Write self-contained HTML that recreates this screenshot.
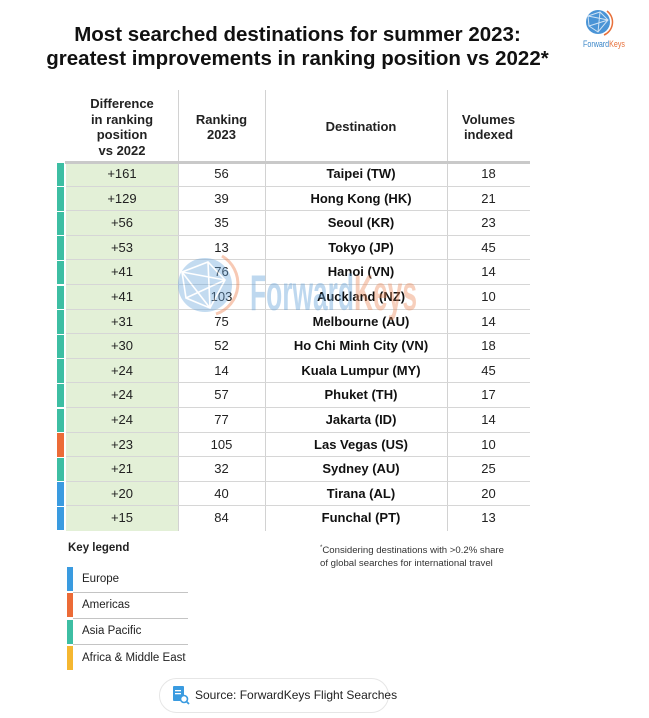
<!DOCTYPE html>
<html><head><meta charset="utf-8"><style>
*{margin:0;padding:0;box-sizing:border-box}
body{width:649px;height:718px;background:#fff;position:relative;overflow:hidden;font-family:"Liberation Sans",Arial,sans-serif;color:#222}
.a{position:absolute}
.t{position:absolute;left:0;width:595px;text-align:center;font-weight:bold;font-size:20.5px;color:#111;white-space:nowrap}
.h{position:absolute;text-align:center;font-weight:bold;font-size:13px;line-height:15.5px;color:#222}
.vl{position:absolute;top:90px;height:441px;width:1px;background:#d2d2d2}
.row{position:absolute;left:0;width:649px;height:24.6px}
.bar{position:absolute;left:57px;top:0.5px;width:7px;height:23.6px}
.g{position:absolute;left:66px;top:0;width:112px;height:24.6px;background:#e3f0d7}
.sep{position:absolute;left:66px;width:464px;height:1px;background:#d6d6d6;bottom:0}
.c{position:absolute;top:0;height:24.6px;line-height:24.6px;font-size:13px;text-align:center;color:#222;white-space:nowrap}
.c1{left:66px;width:112px}.c2{left:178px;width:87px}.c3{left:270px;width:182px;font-weight:bold;color:#111}.c4{left:447px;width:83px}
.lg{position:absolute;left:67px;width:6px;height:24px}
.lt{position:absolute;left:82px;font-size:11.5px;color:#222;line-height:14px}
.ls{position:absolute;left:73px;width:115px;height:1px;background:#c4c4c4}
</style></head><body>

<div class="t" style="top:23px;line-height:24px">Most searched destinations for summer 2023:</div>
<div class="t" style="top:47px;line-height:24px">greatest improvements in ranking position vs 2022*</div>

<!-- top-right logo -->
<svg class="a" style="left:580px;top:6px" width="50" height="46" viewBox="0 0 50 46">
  <circle cx="18" cy="16" r="12" fill="#4a94d6"/>
  <path d="M8 10 L20 6 L28 14 L18 26 L9 20 Z M20 6 L18 26 M8 10 L28 14 M9 20 L28 14" stroke="#cfe3f5" stroke-width="1" fill="none"/>
  <path d="M27 5 A14 14 0 0 1 24 29" stroke="#e8703a" stroke-width="1.5" fill="none"/>
  <text x="3" y="41" font-family="Liberation Sans, sans-serif" font-size="9" textLength="42" lengthAdjust="spacingAndGlyphs"><tspan fill="#3a86c8">Forward</tspan><tspan fill="#e8703a">Keys</tspan></text>
</svg>

<!-- header -->
<div class="h" style="left:66px;width:112px;top:96px">Difference<br>in ranking<br>position<br>vs 2022</div>
<div class="h" style="left:178px;width:87px;top:111.5px">Ranking<br>2023</div>
<div class="h" style="left:270px;width:182px;top:119px">Destination</div>
<div class="h" style="left:447px;width:83px;top:111.5px">Volumes<br>indexed</div>

<div class="vl" style="left:178px"></div>
<div class="vl" style="left:265px"></div>
<div class="vl" style="left:447px"></div>

<div class="row" style="top:162px"><div class="bar" style="background:#3dbea3"></div><div class="g"></div><div class="sep"></div><div class="c c1">+161</div><div class="c c2">56</div><div class="c c3">Taipei (TW)</div><div class="c c4">18</div></div>
<div class="row" style="top:186.6px"><div class="bar" style="background:#3dbea3"></div><div class="g"></div><div class="sep"></div><div class="c c1">+129</div><div class="c c2">39</div><div class="c c3">Hong Kong (HK)</div><div class="c c4">21</div></div>
<div class="row" style="top:211.2px"><div class="bar" style="background:#3dbea3"></div><div class="g"></div><div class="sep"></div><div class="c c1">+56</div><div class="c c2">35</div><div class="c c3">Seoul (KR)</div><div class="c c4">23</div></div>
<div class="row" style="top:235.8px"><div class="bar" style="background:#3dbea3"></div><div class="g"></div><div class="sep"></div><div class="c c1">+53</div><div class="c c2">13</div><div class="c c3">Tokyo (JP)</div><div class="c c4">45</div></div>
<div class="row" style="top:260.4px"><div class="bar" style="background:#3dbea3"></div><div class="g"></div><div class="sep"></div><div class="c c1">+41</div><div class="c c2">76</div><div class="c c3">Hanoi (VN)</div><div class="c c4">14</div></div>
<div class="row" style="top:285px"><div class="bar" style="background:#3dbea3"></div><div class="g"></div><div class="sep"></div><div class="c c1">+41</div><div class="c c2">103</div><div class="c c3">Auckland (NZ)</div><div class="c c4">10</div></div>
<div class="row" style="top:309.6px"><div class="bar" style="background:#3dbea3"></div><div class="g"></div><div class="sep"></div><div class="c c1">+31</div><div class="c c2">75</div><div class="c c3">Melbourne (AU)</div><div class="c c4">14</div></div>
<div class="row" style="top:334.2px"><div class="bar" style="background:#3dbea3"></div><div class="g"></div><div class="sep"></div><div class="c c1">+30</div><div class="c c2">52</div><div class="c c3">Ho Chi Minh City (VN)</div><div class="c c4">18</div></div>
<div class="row" style="top:358.8px"><div class="bar" style="background:#3dbea3"></div><div class="g"></div><div class="sep"></div><div class="c c1">+24</div><div class="c c2">14</div><div class="c c3">Kuala Lumpur (MY)</div><div class="c c4">45</div></div>
<div class="row" style="top:383.4px"><div class="bar" style="background:#3dbea3"></div><div class="g"></div><div class="sep"></div><div class="c c1">+24</div><div class="c c2">57</div><div class="c c3">Phuket (TH)</div><div class="c c4">17</div></div>
<div class="row" style="top:408px"><div class="bar" style="background:#3dbea3"></div><div class="g"></div><div class="sep"></div><div class="c c1">+24</div><div class="c c2">77</div><div class="c c3">Jakarta (ID)</div><div class="c c4">14</div></div>
<div class="row" style="top:432.6px"><div class="bar" style="background:#ec6b37"></div><div class="g"></div><div class="sep"></div><div class="c c1">+23</div><div class="c c2">105</div><div class="c c3">Las Vegas (US)</div><div class="c c4">10</div></div>
<div class="row" style="top:457.2px"><div class="bar" style="background:#3dbea3"></div><div class="g"></div><div class="sep"></div><div class="c c1">+21</div><div class="c c2">32</div><div class="c c3">Sydney (AU)</div><div class="c c4">25</div></div>
<div class="row" style="top:481.8px"><div class="bar" style="background:#3a9be0"></div><div class="g"></div><div class="sep"></div><div class="c c1">+20</div><div class="c c2">40</div><div class="c c3">Tirana (AL)</div><div class="c c4">20</div></div>
<div class="row" style="top:506.4px"><div class="bar" style="background:#3a9be0"></div><div class="g"></div><div class="c c1">+15</div><div class="c c2">84</div><div class="c c3">Funchal (PT)</div><div class="c c4">13</div></div>

<!-- header thick line -->
<div class="a" style="left:65px;top:160.5px;width:465px;height:3px;background:#c9c9c9"></div>

<!-- watermark -->
<svg class="a" style="left:170px;top:250px;opacity:0.4" width="260" height="70" viewBox="0 0 260 70">
  <circle cx="35" cy="35" r="27" fill="#6aa6dc"/>
  <path d="M12 22 L38 12 L55 30 L40 58 L16 48 Z M38 12 L40 58 M12 22 L55 30 M16 48 L55 30 M12 22 L40 58" stroke="#fff" stroke-width="1.6" fill="none"/>
  <path d="M52 6 A32 32 0 0 1 46 64" stroke="#ec7a45" stroke-width="3" fill="none"/>
  <text x="80" y="60" font-family="Liberation Sans, sans-serif" font-weight="bold" font-size="50" textLength="167" lengthAdjust="spacingAndGlyphs"><tspan fill="#5f9fd8">Forward</tspan><tspan fill="#ec8a5a">Keys</tspan></text>
</svg>

<!-- legend -->
<div class="a" style="left:68px;top:542px;font-size:11.5px;font-weight:bold;color:#222">Key legend</div>
<div class="lg" style="top:567px;background:#3a9be0"></div>
<div class="lg" style="top:593px;background:#ec6b37"></div>
<div class="lg" style="top:619.5px;background:#3dbea3"></div>
<div class="lg" style="top:645.5px;background:#f5b731"></div>
<div class="ls" style="top:592px"></div>
<div class="ls" style="top:618px"></div>
<div class="ls" style="top:644px"></div>
<div class="lt" style="top:572px">Europe</div>
<div class="lt" style="top:598px">Americas</div>
<div class="lt" style="top:624px">Asia Pacific</div>
<div class="lt" style="top:651px">Africa &amp; Middle East</div>

<!-- footnote -->
<div class="a" style="left:320px;top:542px;font-size:9.6px;line-height:12.5px;color:#333"><sup style="font-size:6px">*</sup>Considering destinations with &gt;0.2% share<br>of global searches for international travel</div>

<!-- source pill -->
<div class="a" style="left:159px;top:678px;width:230px;height:35px;border:1.5px solid #e6e6e6;border-radius:18px;background:#fff"></div>
<svg class="a" style="left:172px;top:685px" width="18" height="20" viewBox="0 0 18 20">
  <rect x="1" y="1" width="11" height="15" rx="1" fill="#3a9be0"/>
  <rect x="3" y="5" width="6" height="1.3" fill="#fff"/><rect x="3" y="8" width="6" height="1.3" fill="#fff"/>
  <circle cx="12" cy="14" r="3.5" fill="#fff" stroke="#3a9be0" stroke-width="1.6"/>
  <path d="M14.5 16.5 L17 19" stroke="#3a9be0" stroke-width="1.8"/>
</svg>
<div class="a" style="left:195px;top:688px;font-size:12px;line-height:14px;color:#222">Source: ForwardKeys Flight Searches</div>

</body></html>
